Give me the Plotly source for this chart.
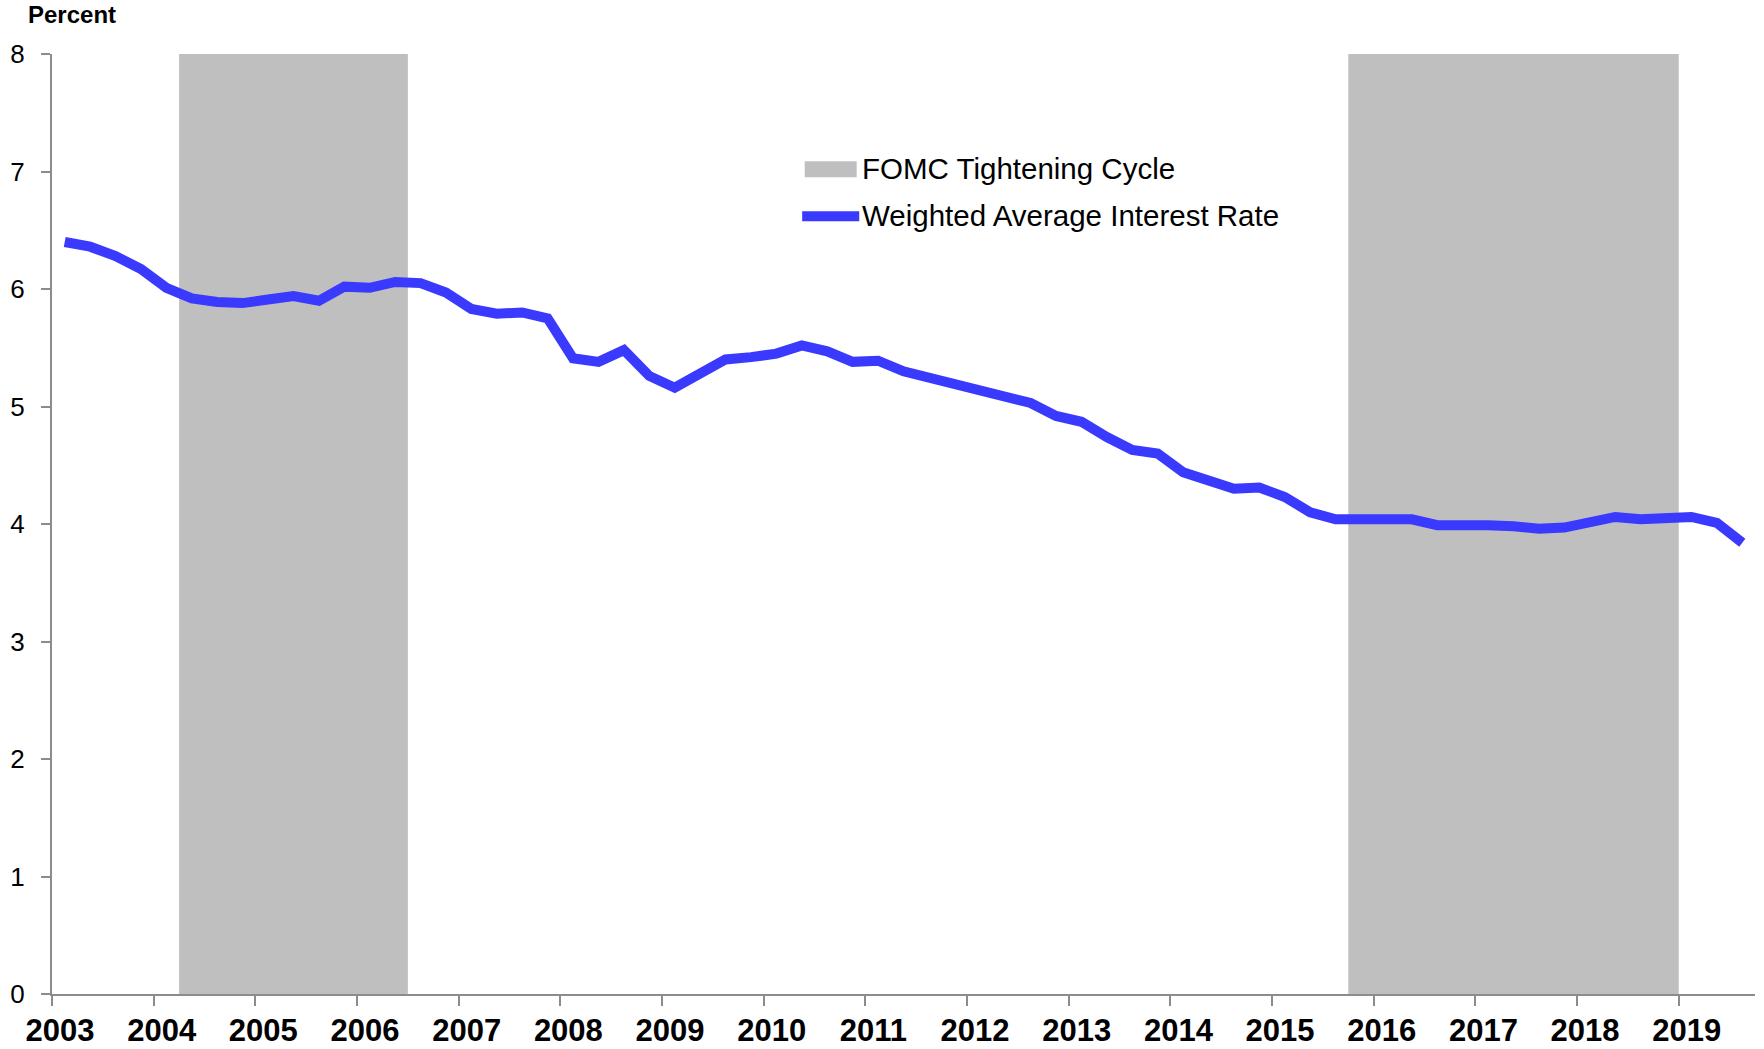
import plotly.graph_objects as go

# Quarterly data, Q1 2003 - Q3 2019 (plotted at quarter midpoints)
start_year = 2003
rate = [6.40, 6.36, 6.28, 6.17, 6.01, 5.92, 5.89, 5.88, 5.91, 5.94, 5.90, 6.02,
        6.01, 6.06, 6.05, 5.97, 5.83, 5.79, 5.80, 5.75, 5.41, 5.38, 5.48, 5.26,
        5.16, 5.27, 5.40, 5.42, 5.45, 5.52, 5.47, 5.38, 5.39, 5.30, 5.25, 5.18,
        5.14, 5.09, 5.03, 4.92, 4.87, 4.74, 4.63, 4.60, 4.44, 4.37, 4.30, 4.31,
        4.23, 4.10, 4.04, 4.04, 4.05, 4.04, 3.99, 4.00, 3.99, 3.98, 3.96, 3.97,
        4.02, 4.06, 4.04, 4.05, 4.06, 4.01, 3.84]
dates = [start_year + 0.125 + 0.25 * i for i in range(len(rate))]

cycle_starts = [2004.25, 2015.75]
cycle_ends = [2006.5, 2019.0]

year_ticks = list(range(2003, 2020))
y_ticks = list(range(0, 9))

LINE_COLOR = "#3A3AFF"
SHADE_COLOR = "#BFBFBF"
AXIS_COLOR = "#8C8C8C"
FONT = "Liberation Sans, Arial, sans-serif"

fig = go.Figure()

for s, e in zip(cycle_starts, cycle_ends):
    fig.add_shape(type="rect", xref="x", yref="paper", x0=s, x1=e, y0=0, y1=1,
                  fillcolor=SHADE_COLOR, line=dict(width=0), layer="below")

fig.add_trace(go.Scatter(x=dates, y=rate, mode="lines",
                         line=dict(color=LINE_COLOR, width=10),
                         name="Weighted Average Interest Rate",
                         showlegend=False, hoverinfo="x+y"))

# manual legend
fig.add_shape(type="rect", xref="paper", yref="paper", x0=0.442, x1=0.4725,
              y0=0.869, y1=0.886, fillcolor=SHADE_COLOR, line=dict(width=0))
fig.add_shape(type="line", xref="paper", yref="paper", x0=0.4405, x1=0.4740,
              y0=0.8275, y1=0.8275, line=dict(color=LINE_COLOR, width=10))
fig.add_annotation(text="FOMC Tightening Cycle", xref="paper", yref="paper",
                   x=0.4742, y=0.8777, xanchor="left", yanchor="middle",
                   showarrow=False, font=dict(family=FONT, size=29.5, color="black"))
fig.add_annotation(text="Weighted Average Interest Rate", xref="paper", yref="paper",
                   x=0.4742, y=0.8278, xanchor="left", yanchor="middle",
                   showarrow=False, font=dict(family=FONT, size=29.5, color="black"))

fig.add_annotation(text="<b>Percent</b>", xref="paper", yref="paper",
                   x=-0.0149, y=1.0574, xanchor="left", yanchor="top", borderpad=0,
                   showarrow=False, font=dict(family=FONT, size=24, color="black"))

fig.update_layout(
    width=1764, height=1049,
    margin=dict(l=52, r=9, t=54, b=54.5),
    paper_bgcolor="white", plot_bgcolor="white",
    font=dict(family=FONT, color="black"),
    showlegend=False,
    xaxis=dict(range=[2003, 2019.75], tickvals=year_ticks,
               ticktext=[f"<b>{y}</b>" for y in year_ticks],
               ticks="outside", ticklen=10, tickwidth=2, tickcolor=AXIS_COLOR,
               showline=True, linecolor=AXIS_COLOR, linewidth=2,
               showgrid=False, zeroline=False, automargin=False,
               tickfont=dict(family=FONT, size=31, color="black"),
               ticklabelshift=8, ticklabelstandoff=-2),
    yaxis=dict(range=[0, 8], tickvals=y_ticks,
               ticks="outside", ticklen=9, tickwidth=2, tickcolor=AXIS_COLOR,
               showline=True, linecolor=AXIS_COLOR, linewidth=2,
               showgrid=False, zeroline=False, automargin=False,
               tickfont=dict(family=FONT, size=26, color="black"),
               ticklabelstandoff=11),
)

fig.write_html("out.html", config={"displayModeBar": False},
               post_script="document.body.style.margin='0';document.body.style.overflow='hidden';")
